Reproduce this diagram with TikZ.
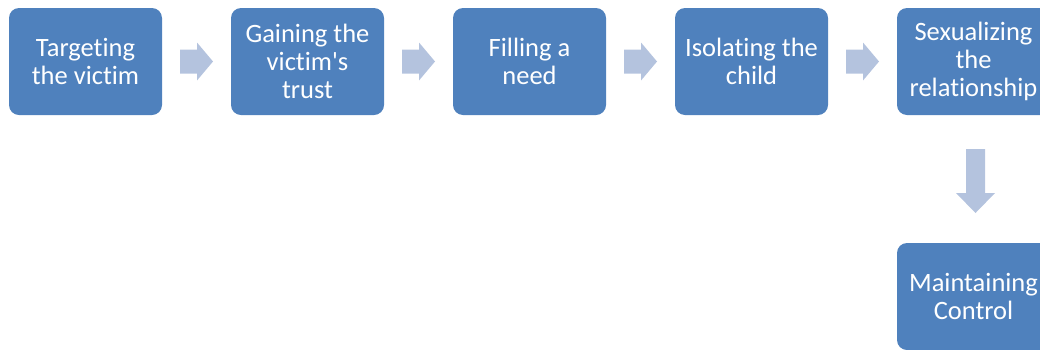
\documentclass[tikz,border=0pt]{standalone}
\usepackage{fontspec}
\setmainfont{Carlito}[Ligatures={NoCommon,NoContextual,TeXOff}]
\usepackage{tikz}
\usetikzlibrary{calc}
\usepackage{xcolor}
\definecolor{StepBlue}{HTML}{4F81BD}
\definecolor{StepArrow}{HTML}{B4C3DE}

\tikzset{
  stepbox/.style={fill=StepBlue,rounded corners=10pt,minimum width=153pt,minimum height=107pt,
    inner sep=0pt,text=white,align=center,font=\fontsize{26.5}{28}\selectfont},
  steparrow/.style={fill=StepArrow}
}

\begin{document}
\begin{tikzpicture}[x=1pt,y=-1pt]
  \useasboundingbox (0,0) rectangle (1040,349);
  \clip (0,0) rectangle (1040,349);
  \node[stepbox] (target) at (85.5,61.5) {Targeting\\the victim};
  \node[stepbox] (trust) at (307.5,61.5) {Gaining the\\victim's\\trust};
  \node[stepbox] (need) at (529.5,61.5) {Filling a\\need};
  \node[stepbox] (isolate) at (751.5,61.5) {Isolating the\\child};
  \node[stepbox] (sexual) at (973.5,61.5) {Sexualizing\\the\\relationship};
  \node[stepbox] (control) at (973.5,296.5) {Maintaining\\Control};
  % block arrows between the steps
  \foreach \a/\b in {target/trust,trust/need,need/isolate,isolate/sexual}
    \fill[steparrow,shift={($(\a.east)!0.5!(\b.west)$)}]
      (-16.5,-12) -- (0.5,-12) -- (0.5,-19) -- (16.5,0) -- (0.5,19) -- (0.5,12) -- (-16.5,12) -- cycle;
  \fill[steparrow,shift={($(sexual.south)!0.5!(control.north)+(2,2)$)}]
    (-9.5,-32) -- (9.5,-32) -- (9.5,12) -- (19.5,12) -- (0,32) -- (-19.5,12) -- (-9.5,12) -- cycle;
\end{tikzpicture}
\end{document}
